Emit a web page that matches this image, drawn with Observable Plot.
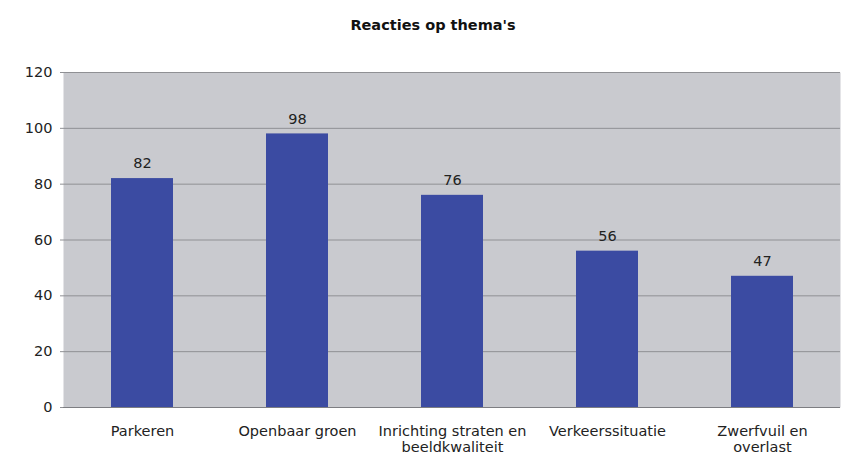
<!DOCTYPE html>
<html><head><meta charset="utf-8">
<script src="https://cdn.jsdelivr.net/npm/d3@7"></script>
<script src="https://cdn.jsdelivr.net/npm/@observablehq/plot@0.6"></script>
<style>
body{margin:0;background:#fff;font-family:"DejaVu Sans",Verdana,sans-serif;}
#title{height:52px;box-sizing:border-box;padding-top:17px;padding-left:22px;text-align:center;font-weight:bold;font-size:14.5px;color:#111;}
</style></head>
<body>
<div id="title">Reacties op thema's</div>
<div id="chart"></div>
<script>
const categories = ["Parkeren", "Openbaar groen", "Inrichting straten en\nbeeldkwaliteit", "Verkeerssituatie", "Zwerfvuil en\noverlast"];
const values = [82, 98, 76, 56, 47];
const yTicks = [0, 20, 40, 60, 80, 100, 120];

const data = categories.map((c, i) => ({cat: c, value: values[i]}));

const chart = Plot.plot({
  width: 844,
  height: 404,
  marginLeft: 63,
  marginRight: 4,
  marginTop: 20,
  marginBottom: 49,
  style: {fontFamily: "'DejaVu Sans', Verdana, sans-serif", fontSize: "14.5px", color: "#222", background: "transparent"},
  x: {domain: categories, paddingInner: 0.6, paddingOuter: 0.3, label: null},
  y: {domain: [0, 120], ticks: yTicks, label: null},
  marks: [
    Plot.frame({fill: "#c9cacf", stroke: null}),
    Plot.ruleY(yTicks.filter(d => d > 0), {stroke: "#8f9094", strokeWidth: 1}),
    Plot.barY(data, {x: "cat", y: "value", fill: "#3b4ba2"}),
    Plot.text(data, {x: "cat", y: "value", text: d => String(d.value), dy: -15, fill: "#222", fontSize: 14.5}),
    Plot.ruleY([0], {stroke: "#7d7e82", strokeWidth: 1.2}),
    Plot.axisY({ticks: yTicks, tickSize: 3, tickPadding: 8, stroke: "#8f9094", fill: "#222", fontSize: 14.5}),
    Plot.axisX({tickSize: 0, tickPadding: 17, lineHeight: 1.1, fill: "#222", fontSize: 14.5})
  ]
});
document.getElementById("chart").appendChild(chart);
</script>
</body></html>
